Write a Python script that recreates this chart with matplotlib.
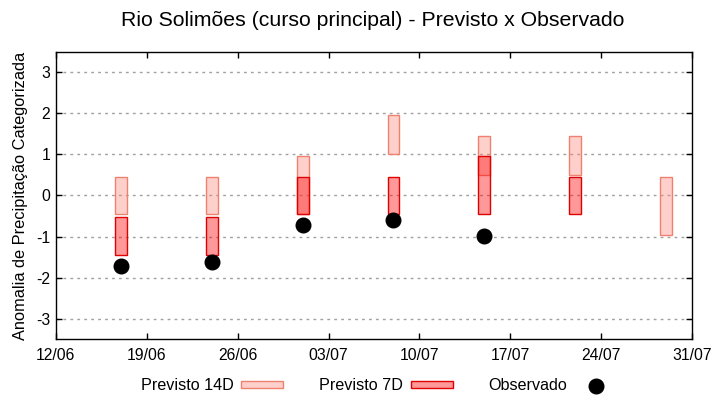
import matplotlib
matplotlib.use("Agg")
import matplotlib.pyplot as plt
import matplotlib.dates as mdates
from matplotlib.patches import Patch
from matplotlib.lines import Line2D
import pandas as pd

plt.rcParams['font.family'] = ['Liberation Sans', 'DejaVu Sans']

# ---- data ----
dates_14d = pd.to_datetime(["2024-06-17", "2024-06-24", "2024-07-01", "2024-07-08",
                            "2024-07-15", "2024-07-22", "2024-07-29"])
p14_low = [-0.45, -0.45, -0.45, 1.0, 0.5, 0.5, -0.95]
p14_high = [0.45, 0.45, 0.95, 1.95, 1.45, 1.45, 0.45]

dates_7d = pd.to_datetime(["2024-06-17", "2024-06-24", "2024-07-01", "2024-07-08",
                           "2024-07-15", "2024-07-22"])
p7_low = [-1.45, -1.45, -0.45, -0.45, -0.45, -0.45]
p7_high = [-0.52, -0.52, 0.45, 0.45, 0.95, 0.45]

dates_obs = pd.to_datetime(["2024-06-17", "2024-06-24", "2024-07-01", "2024-07-08",
                            "2024-07-15"])
obs = [-1.71, -1.62, -0.71, -0.59, -0.98]

xticks = pd.date_range("2024-06-12", "2024-07-31", freq="7D")
yticks = [-3, -2, -1, 0, 1, 2, 3]

title = "Rio Solimões (curso principal) - Previsto x Observado"
ylabel = "Anomalia de Precipitação Categorizada"

# ---- plot ----
fig = plt.figure(figsize=(7.2, 4.0), dpi=100)
ax = fig.add_axes([0.0774, 0.1518, 0.8841, 0.7190])

c14_face = (250/255, 128/255, 114/255, 0.37)
c14_edge = '#f08070'
c7_face = (1.0, 0.0, 0.0, 0.40)
c7_edge = '#e00000'

h14 = [hi - lo for lo, hi in zip(p14_low, p14_high)]
h7 = [hi - lo for lo, hi in zip(p7_low, p7_high)]

ax.bar(dates_14d, h14, bottom=p14_low, width=0.92, facecolor=c14_face,
       edgecolor=c14_edge, linewidth=1.0, zorder=3)
ax.bar(dates_7d, h7, bottom=p7_low, width=0.92, facecolor=c7_face,
       edgecolor=c7_edge, linewidth=1.0, zorder=4)
ax.plot(dates_obs, obs, 'o', color='black', markersize=10.5, zorder=5)

ax.set_xlim(xticks[0], xticks[-1])
ax.set_ylim(-3.5, 3.5)
ax.set_xticks(xticks)
ax.xaxis.set_major_formatter(mdates.DateFormatter('%d/%m'))
ax.set_yticks(yticks)
ax.set_yticklabels([str(v) for v in yticks])
ax.tick_params(direction='in', length=4.5, width=1, top=True, right=True,
               labelsize=11.3, colors='black', pad=4)
ax.tick_params(axis='x', pad=6)
for s in ax.spines.values():
    s.set_linewidth(1.0)
ax.yaxis.grid(True, color='#a0a0a0', linestyle=(0, (2, 3)), linewidth=1.0, zorder=0)
ax.set_axisbelow(True)

ax.set_ylabel(ylabel, fontsize=11.8, labelpad=6)
fig.text(0.518, 0.95, title, ha='center', va='center', fontsize=15.3)

handles = [Patch(facecolor=c14_face, edgecolor=c14_edge, linewidth=1.0),
           Patch(facecolor=c7_face, edgecolor=c7_edge, linewidth=1.0),
           Line2D([], [], marker='o', linestyle='none', color='black', markersize=10.5)]
labels = ["Previsto 14D", "Previsto 7D", "Observado"]
fig.legend(handles, labels, loc='center', bbox_to_anchor=(0.526, 0.035), ncol=3,
           frameon=False, markerfirst=False, fontsize=11.6, handlelength=2.6,
           handleheight=0.32, handletextpad=0.5, columnspacing=2.2)

fig.savefig("out.png", dpi=100)
